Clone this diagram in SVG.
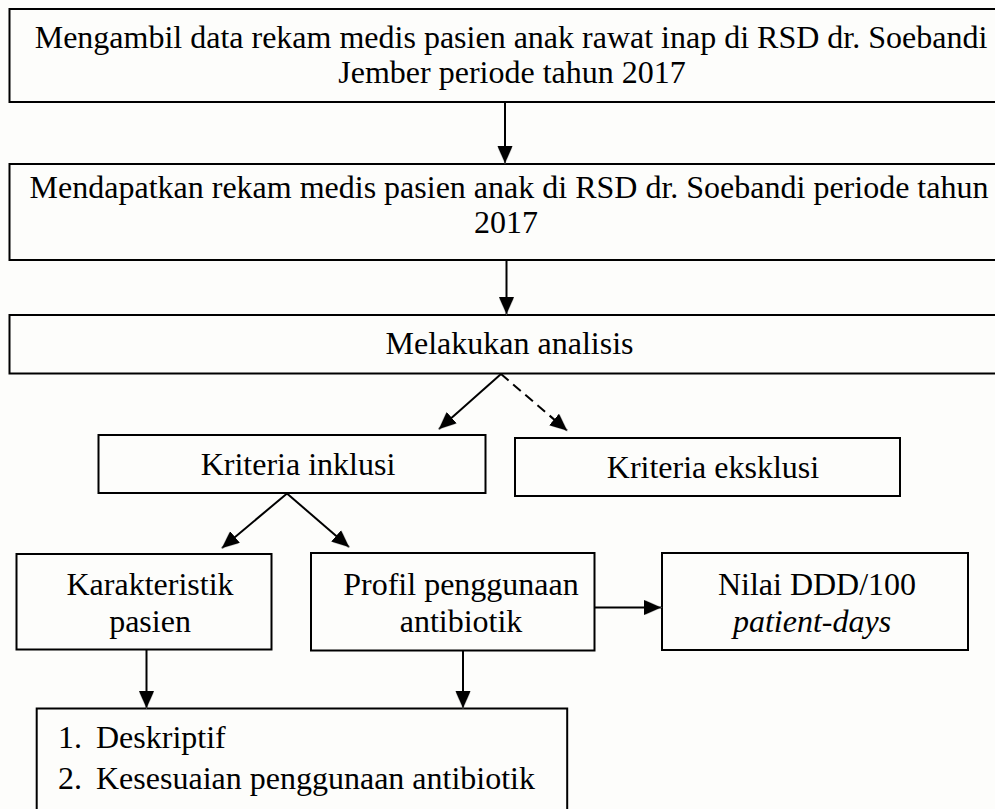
<svg xmlns="http://www.w3.org/2000/svg" width="995" height="809" viewBox="0 0 995 809">
<defs>
<style>
.box{fill:none;stroke:#000;stroke-width:2}
.t{font-family:"Liberation Serif","Times New Roman",serif;font-size:32px;fill:#000}
.c{text-anchor:middle}
.ln{stroke:#000;stroke-width:2;fill:none}
.dash{stroke-dasharray:10 6}
</style>
<marker id="ah" markerUnits="userSpaceOnUse" markerWidth="20" markerHeight="16" refX="17" refY="7.5" orient="auto" viewBox="0 0 20 15">
<path d="M1.5,0 L18.5,7.5 L1.5,15 Z" fill="#999" fill-opacity="0.55"/>
<path d="M0,0 L17,7.5 L0,15 Z" fill="#000"/>
</marker>
</defs>
<rect width="995" height="809" fill="#fdfdfb"/>
<g id="n1">
<rect class="box" x="9.5" y="9" width="1000" height="93"/>
<text class="t c" x="511" y="47.5">Mengambil data rekam medis pasien anak rawat inap di RSD dr. Soebandi</text>
<text class="t c" x="512" y="82.5">Jember periode tahun 2017</text>
</g>
<g id="n2">
<rect class="box" x="9.5" y="164" width="1000" height="96"/>
<text class="t c" x="509" y="198">Mendapatkan rekam medis pasien anak di RSD dr. Soebandi periode tahun</text>
<text class="t c" x="506" y="233">2017</text>
</g>
<g id="n3">
<rect class="box" x="9.5" y="315" width="1000" height="58.5"/>
<text class="t c" x="509.5" y="354">Melakukan analisis</text>
</g>
<g id="n4">
<rect class="box" x="98.5" y="435" width="387" height="58"/>
<text class="t c" x="298" y="474.5">Kriteria inklusi</text>
</g>
<g id="n5">
<rect class="box" x="515" y="438" width="385" height="58"/>
<text class="t c" x="713" y="477.5">Kriteria eksklusi</text>
</g>
<g id="n6">
<rect class="box" x="16.5" y="554" width="255" height="95.5"/>
<text class="t c" x="150" y="595">Karakteristik</text>
<text class="t c" x="150" y="632">pasien</text>
</g>
<g id="n7">
<rect class="box" x="311" y="553" width="283.5" height="97.5"/>
<text class="t c" x="461" y="595">Profil penggunaan</text>
<text class="t c" x="461" y="632">antibiotik</text>
</g>
<g id="n8">
<rect class="box" x="662" y="553" width="306" height="97"/>
<text class="t c" x="817" y="595">Nilai DDD/100</text>
<text class="t c" x="812" y="632" font-style="italic">patient-days</text>
</g>
<g id="n9">
<rect class="box" x="36.7" y="708.5" width="530.5" height="120"/>
<text class="t" x="58" y="748">1.</text>
<text class="t" x="96" y="748">Deskriptif</text>
<text class="t" x="58" y="789">2.</text>
<text class="t" x="96" y="789">Kesesuaian penggunaan antibiotik</text>
</g>
<g id="connectors">
<line class="ln" x1="505" y1="103" x2="505" y2="163" marker-end="url(#ah)"/>
<line class="ln" x1="506.5" y1="261" x2="506.5" y2="314" marker-end="url(#ah)"/>
<line class="ln" x1="501" y1="374" x2="439" y2="429" marker-end="url(#ah)"/>
<line class="ln dash" x1="501" y1="374" x2="567" y2="430.5" marker-end="url(#ah)"/>
<line class="ln" x1="287" y1="493.5" x2="222" y2="548" marker-end="url(#ah)"/>
<line class="ln" x1="287" y1="493.5" x2="349" y2="547" marker-end="url(#ah)"/>
<line class="ln" x1="594.5" y1="607.5" x2="661" y2="607.5" marker-end="url(#ah)"/>
<line class="ln" x1="146.5" y1="650" x2="146.5" y2="708" marker-end="url(#ah)"/>
<line class="ln" x1="463" y1="651" x2="463" y2="708" marker-end="url(#ah)"/>
</g>
</svg>
